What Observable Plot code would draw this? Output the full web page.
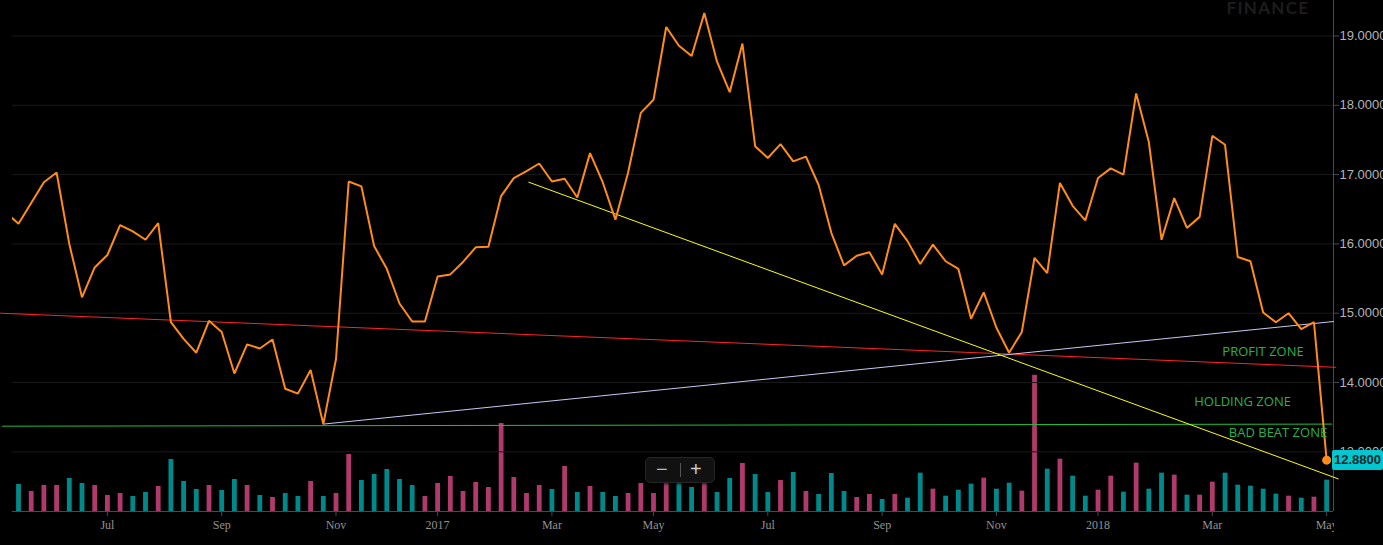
<!DOCTYPE html>
<html><head><meta charset="utf-8">
<script src="https://cdn.jsdelivr.net/npm/d3@7"></script>
<script src="https://cdn.jsdelivr.net/npm/@observablehq/plot@0.6"></script>
<style>
html,body{margin:0;padding:0;background:#000;overflow:hidden}
#wrap{position:relative;width:1383px;height:545px;background:#000;overflow:hidden}
#wrap svg{position:absolute;left:0;top:0}
.ov{position:absolute}
</style></head><body><div id="wrap"></div>
<script>
// Weekly bars, first week starting 2016-05-09
const firstWeek = "2016-05-09";
const closes = [16.46,
  16.29,16.59,16.89,17.03,16.00,15.23,15.66,15.84,16.27,16.18,
  16.06,16.30,14.87,14.63,14.43,14.89,14.73,14.13,14.55,14.49,
  14.62,13.91,13.84,14.18,13.40,14.34,16.90,16.83,15.97,15.64,
  15.14,14.88,14.88,15.53,15.56,15.74,15.95,15.96,16.69,16.95,
  17.05,17.16,16.90,16.94,16.67,17.31,16.89,16.35,17.03,17.89,
  18.08,19.13,18.86,18.71,19.33,18.63,18.19,18.89,17.41,17.24,
  17.44,17.19,17.26,16.85,16.16,15.69,15.83,15.88,15.56,16.29,
  16.04,15.71,15.99,15.75,15.64,14.92,15.30,14.79,14.43,14.73,
  15.80,15.58,16.88,16.55,16.34,16.95,17.09,17.00,18.17,17.47,
  16.06,16.66,16.23,16.39,17.56,17.43,15.81,15.75,15.01,14.87,
  15.00,14.77,14.87,12.88];
const volumes = [null,
  81,60,78,78,99,84,78,48,54,45,
  57,75,156,90,66,78,63,96,78,48,
  42,54,45,90,45,54,171,93,111,126,
  96,78,45,84,105,60,87,72,264,102,
  54,78,66,135,57,75,57,45,54,84,
  54,95,95,72,95,57,99,144,111,57,
  93,117,60,51,114,60,42,51,36,51,
  40,115,67,46,64,82,100,67,85,61,
  409,127,157,106,46,64,106,58,145,67,
  115,109,49,49,88,115,79,76,67,52,
  46,40,43,94];
// 1 = up week (teal), 0 = down week (pink)
const upWeeks = [null,
  1,0,0,0,1,1,0,0,0,1,
  1,0,1,1,1,0,1,1,0,1,
  0,1,1,0,1,0,0,1,1,1,
  1,1,0,0,0,0,0,0,0,0,
  0,0,1,0,1,0,1,1,0,0,
  0,0,1,1,0,1,1,0,1,1,
  0,1,0,1,1,1,0,0,1,0,
  1,1,0,1,1,1,0,1,1,0,
  0,1,0,1,1,0,0,1,0,1,
  1,0,1,0,0,1,1,1,1,1,
  0,1,0,1];
const tickMonths = ["2016-07-01","2016-09-01","2016-11-01","2017-01-01","2017-03-01","2017-05-01",
                    "2017-07-01","2017-09-01","2017-11-01","2018-01-01","2018-03-01","2018-05-01"];
const tickLabels = ["Jul","Sep","Nov","2017","Mar","May","Jul","Sep","Nov","2018","Mar","May"];
const priceTicks = [13,14,15,16,17,18,19];
// Drawn trend lines: [week index, price]
const redTrend    = [[-0.42, 15.00], [104.7, 14.22]];
const greenLevel  = [[-0.26, 13.37], [104.4, 13.40]];
const whiteTrend  = [[25, 13.40], [104.54, 14.88]];
const yellowTrend = [[41.18, 16.89], [104.91, 12.61]];
const zones = ["PROFIT ZONE","HOLDING ZONE","BAD BEAT ZONE"];
const zoneLevels = [14.447, 13.716, 13.274];
const zoneWeeks = [98.99, 97.38, 100.17];
const lastLabel = "12.8800";

const start = new Date(firstWeek + "T00:00:00Z");
const weeks = closes.map((c, i) => ({
  i, date: d3.utcDay.offset(start, 7 * i), close: c, vol: volumes[i], up: upWeeks[i]
}));
const tickIdx = tickMonths.map(m => {
  const t = new Date(m + "T00:00:00Z");
  return weeks.find(w => w.date >= t).i;
});
const labelOf = new Map(tickIdx.map((t, k) => [t, tickLabels[k]]));

const W = 1383, H = 545;
const common = {
  width: W, height: H, marginLeft: 12, marginRight: 50, marginTop: 0, marginBottom: 34,
  style: {background: "transparent", color: "#9a9a9a", overflow: "visible"}
};

const volPlot = Plot.plot({
  ...common,
  x: {type: "linear", domain: [0.528, 104.54], axis: null},
  y: {domain: [0, 1533], axis: null},
  marks: [
    Plot.ruleX(weeks.filter(w => w.vol != null), {
      x: "i", y1: 0, y2: "vol", strokeWidth: 4.8,
      stroke: w => w.up ? "#00898a" : "#b03a6c", clip: true
    })
  ]
});

const pricePlot = Plot.plot({
  ...common,
  x: {type: "linear", domain: [0.528, 104.54], label: null},
  y: {domain: [12.139, 19.512], label: null},
  marks: [
    Plot.ruleY(priceTicks, {stroke: "#1a1a1a"}),
    Plot.ruleX([104.54], {stroke: "#4a4a4a"}),
    Plot.ruleY([12.139], {stroke: "#4a4a4a"}),
    Plot.axisY({anchor: "right", label: null, ticks: priceTicks, tickFormat: d => d.toFixed(4), tickSize: 5,
      tickPadding: 1, stroke: "#4a4a4a", fill: "#b4b4b4", fontSize: 13,
      fontFamily: "Liberation Sans, Arial, sans-serif", textAnchor: "start"}),
    Plot.axisX({label: null, ticks: tickIdx, tickFormat: d => labelOf.get(d), tickSize: 5, tickPadding: 4,
      stroke: "#4a4a4a", fill: "#929292", fontSize: 12, fontFamily: "Liberation Serif, Times New Roman, serif"}),
    Plot.line(redTrend, {x: d => d[0], y: d => d[1], stroke: "#ff2424", strokeWidth: 1}),
    Plot.line(greenLevel, {x: d => d[0], y: d => d[1], stroke: "#22c03c", strokeWidth: 1}),
    Plot.line(whiteTrend, {x: d => d[0], y: d => d[1], stroke: "#c8c8f4", strokeWidth: 1}),
    Plot.line(yellowTrend, {x: d => d[0], y: d => d[1], stroke: "#ffff00", strokeWidth: 1}),
    Plot.line(weeks, {x: "i", y: "close", stroke: "#ff8c1a", strokeWidth: 2, strokeLinejoin: "miter", clip: true}),
    Plot.dot([weeks[weeks.length - 1]], {x: "i", y: "close", r: 4.5, fill: "#ff8c1a", stroke: "none"}),
    Plot.text(zones, {x: (d, k) => zoneWeeks[k], y: (d, k) => zoneLevels[k], text: d => d,
      fill: "#2db04b", fontSize: 13, fontFamily: "Open Sans, Noto Sans, sans-serif"})
  ]
});

const wrap = document.getElementById("wrap");
wrap.appendChild(volPlot);
wrap.appendChild(pricePlot);

function div(style, text) {
  const d = document.createElement("div");
  d.className = "ov";
  Object.assign(d.style, style);
  if (text != null) d.textContent = text;
  wrap.appendChild(d);
  return d;
}
// hide axis text past the price scale edge
div({left: "1334px", top: "513px", width: "49px", height: "32px", background: "#000"});
// watermark
div({left: "1222px", top: "-3px", width: "92px", textAlign: "center", font: "bold 17px Lato, sans-serif",
     letterSpacing: "1.3px", color: "#1d1d1d"}, "FINANCE");
// last price label
const yLast = pricePlot.scale("y").apply(closes[closes.length - 1]);
div({left: "1332px", top: (yLast - 10) + "px", width: "51px", height: "20px", background: "#00c6d0",
     borderRadius: "2px", font: "bold 13px Liberation Sans, Arial, sans-serif", color: "#05282b",
     lineHeight: "20px", paddingLeft: "2px", boxSizing: "border-box", whiteSpace: "nowrap"}, lastLabel);
// zoom control
const zc = div({left: "645px", top: "457px", width: "70px", height: "26px", background: "#111",
     border: "1px solid #262626", borderRadius: "5px", boxSizing: "border-box",
     boxShadow: "0 1px 3px rgba(0,0,0,0.8)"});
zc.innerHTML = '<span style="position:absolute;left:10px;top:0;line-height:23px;font:20px Liberation Sans,sans-serif;color:#bbb">\u2212</span>' +
  '<span style="position:absolute;left:34px;top:5px;width:1px;height:14px;background:#555"></span>' +
  '<span style="position:absolute;left:44px;top:0;line-height:23px;font:20px Liberation Sans,sans-serif;color:#ccc">+</span>';
</script></body></html>
